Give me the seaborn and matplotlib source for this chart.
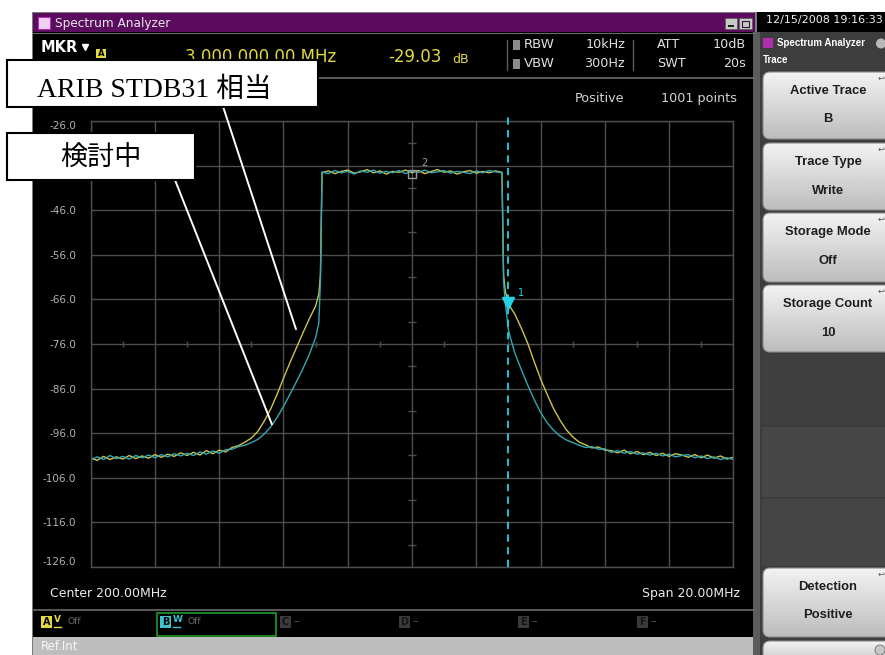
import numpy as np
import pandas as pd
import seaborn as sns
import matplotlib.pyplot as plt
from matplotlib.patches import Rectangle, FancyBboxPatch, Circle

plt.rcParams['font.family'] = ['DejaVu Sans', 'Noto Sans CJK JP']

# ---- values ----
freq_mhz = [
    190.0, 190.2, 190.4, 190.6, 190.8, 191.0, 191.2, 191.4, 191.6, 191.8, 192.0,
    192.2, 192.4, 192.6, 192.8, 193.0, 193.2, 193.4, 193.6, 193.8, 194.0, 194.2,
    194.4, 194.6, 194.8, 195.0, 195.2, 195.4, 195.6, 195.8, 196.0, 196.2, 196.4,
    196.6, 196.8, 197.0, 197.1, 197.15,
    197.2, 197.4, 197.6, 197.8, 198.0, 198.2, 198.4, 198.6, 198.8, 199.0, 199.2,
    199.4, 199.6, 199.8, 200.0, 200.2, 200.4, 200.6, 200.8, 201.0, 201.2, 201.4,
    201.6, 201.8, 202.0, 202.2, 202.4, 202.6, 202.8,
    202.85, 202.9, 203.0, 203.05, 203.2, 203.4, 203.6, 203.8, 204.0, 204.2, 204.4,
    204.6, 204.8, 205.0, 205.2, 205.4, 205.6, 205.8, 206.0,
    206.2, 206.4, 206.6, 206.8, 207.0, 207.2, 207.4, 207.6, 207.8, 208.0, 208.2,
    208.4, 208.6, 208.8, 209.0, 209.2, 209.4, 209.6, 209.8, 210.0,
]

# trace A (yellow, "ARIB STDB31 相当")
trace_a_db = [
    -101.5, -102.1, -101.2, -101.9, -101.3, -101.8, -101.0, -101.7, -101.1, -101.6, -100.8,
    -101.4, -100.7, -101.2, -100.4, -101.0, -100.3, -100.9, -99.9, -100.6, -99.8, -100.2,
    -99.2, -98.8, -98.0, -97.1, -95.6, -93.3, -90.6, -87.3, -83.7, -80.2, -76.9,
    -73.6, -70.4, -67.5, -64.8, -60.5,
    -37.6, -37.2, -37.8, -37.3, -37.0, -37.7, -37.4, -36.9, -37.6, -37.2, -37.9,
    -37.3, -37.5, -37.0, -37.6, -37.1, -37.8, -37.3, -36.9, -37.5, -37.2, -37.9,
    -37.4, -37.1, -37.7, -37.3, -37.6, -37.2, -37.5,
    -60.5, -64.0, -66.9, -67.6, -69.3, -72.4, -75.8, -79.9, -83.8, -87.2, -90.4,
    -93.0, -95.2, -96.8, -98.0, -98.6, -99.3, -99.1, -99.8,
    -99.9, -100.4, -99.8, -100.6, -100.1, -100.8, -100.3, -101.0, -100.5, -101.2, -100.6,
    -100.9, -101.4, -100.8, -101.5, -100.9, -101.6, -101.1, -101.8, -101.4,
]

# trace B (cyan, "検討中")
trace_b_db = [
    -102.0, -101.3, -101.9, -101.0, -101.7, -101.2, -101.8, -101.0, -101.5, -100.9, -101.5,
    -100.8, -101.3, -100.6, -101.1, -100.5, -101.0, -100.2, -100.7, -100.0, -100.5, -99.7,
    -99.6, -99.0, -98.7, -98.1, -97.4, -96.2, -94.6, -92.5, -90.0, -87.3, -84.5,
    -81.6, -78.4, -74.6, -71.3, -62.0,
    -37.4, -37.8, -37.1, -37.6, -37.3, -37.9, -37.2, -37.5, -37.0, -37.7, -37.3,
    -37.6, -37.1, -37.8, -37.2, -37.5, -37.0, -37.6, -37.4, -37.1, -37.7, -37.3,
    -37.5, -37.8, -37.2, -37.6, -37.1, -37.4, -37.6,
    -62.0, -66.5, -72.8, -74.3, -78.0, -81.7, -85.2, -88.4, -91.3, -93.6, -95.3,
    -96.6, -97.5, -98.1, -98.7, -99.2, -99.0, -99.6, -99.5,
    -100.3, -99.9, -100.5, -100.1, -100.7, -100.4, -100.9, -100.5, -101.1, -100.7, -101.3,
    -101.0, -100.8, -101.5, -101.1, -101.7, -101.3, -101.9, -101.5, -101.9,
]

y_ticks_db = [-26, -36, -46, -56, -66, -76, -86, -96, -106, -116, -126]
x_ticks_mhz = [190, 192, 194, 196, 198, 200, 202, 204, 206, 208, 210]
marker_freq = [203.0, 200.0]
marker_db = [-66.9, -37.9]
note_labels = ['ARIB STDB31 相当', '検討中']
note_targets = [(196.39, -72.7), (195.64, -94.0)]

softkeys = [('Active Trace', 'B'), ('Trace Type', 'Write'), ('Storage Mode', 'Off'),
            ('Storage Count', '10'), ('Detection', 'Positive'), ('', '')]

YEL = '#e3da3f'
TR_A = '#cdc44a'
TR_B = '#33a8b3'
GRID = '#4d4d4d'

W, H = 885, 655
fig = plt.figure(figsize=(W / 100, H / 100), dpi=100, facecolor='white')

# ---------- screen chrome, drawn in pixel coordinates ----------
bg = fig.add_axes([0, 0, 1, 1], label='chrome', zorder=0)
bg.axis('off')


def rect(x0, y0, x1, y1, **kw):
    kw.setdefault('lw', 0)
    bg.add_patch(Rectangle((x0, y0), x1 - x0, y1 - y0, **kw))


def txt(x, y, s, **kw):
    kw.setdefault('va', 'center')
    bg.text(x, y, s, **kw)


rect(32, 12, 760, 655, fc='#7c7c7c')
rect(33, 13, 755, 655, fc='black')
rect(33, 13, 755, 32, fc='#5a0b5e')
rect(38, 17, 50, 29, fc='#f2d0f0', ec='#b030b0', lw=0.8)
txt(55, 23, 'Spectrum Analyzer', color='#e6e6e6', fontsize=8.7)
rect(725, 18, 737, 29, fc='#c8c8c8', ec='#606060', lw=0.6)
rect(739, 18, 752, 29, fc='#c8c8c8', ec='#606060', lw=0.6)
rect(728, 25, 734, 26.5, fc='#202020')
rect(742, 20.5, 749, 27, fc='none', ec='#202020', lw=0.8)
bg.plot([33, 755], [32.5, 32.5], color='#6a6a6a', lw=0.8)
bg.plot([33, 755], [78, 78], color='#6a6a6a', lw=1.2)

# marker readout
txt(41, 47.5, 'MKR', color='white', fontsize=10.5, fontweight='bold')
bg.plot([85], [46.5], marker='v', color='white', ms=5)
rect(96, 49, 106, 57.5, fc=YEL)
txt(101, 53.3, 'A', color='black', fontsize=6, fontweight='bold', ha='center')
txt(185, 62, '3.000 000 00 MHz', color=YEL, fontsize=12, va='baseline')
txt(388, 62, '-29.03', color=YEL, fontsize=12, va='baseline')
txt(452, 63, 'dB', color=YEL, fontsize=9, va='baseline')
for sx in (506.7, 633.3):
    bg.plot([sx, sx], [40, 70], color='#5a5a5a', lw=1)
rect(512.7, 40, 520, 50, fc='#8a8a8a')
rect(512.7, 58.5, 520, 68.5, fc='#8a8a8a')
txt(524, 45, 'RBW', color='#e0e0e0', fontsize=9.5)
txt(524, 63.3, 'VBW', color='#e0e0e0', fontsize=9.5)
txt(625, 45, '10kHz', color='#e0e0e0', fontsize=9.2, ha='right')
txt(625, 63.3, '300Hz', color='#e0e0e0', fontsize=9.2, ha='right')
txt(657, 45, 'ATT', color='#e0e0e0', fontsize=9.2)
txt(657, 63.3, 'SWT', color='#e0e0e0', fontsize=9.2)
txt(746, 45, '10dB', color='#e0e0e0', fontsize=9.2, ha='right')
txt(746, 63.3, '20s', color='#e0e0e0', fontsize=9.2, ha='right')
txt(575, 98.3, 'Positive', color='#d4d4d4', fontsize=9.2)
txt(737, 98.3, '1001 points', color='#d4d4d4', fontsize=9.2, ha='right')

# bottom strip
txt(50, 593.3, 'Center 200.00MHz', color='#ececec', fontsize=9)
txt(740, 593.3, 'Span 20.00MHz', color='#ececec', fontsize=9, ha='right')
bg.plot([33, 755], [610, 610], color='#6a6a6a', lw=1.2)
trace_slots = [('A', 'V', YEL, 41), ('B', 'W', '#3ec3cc', 160), ('C', None, None, 279.5),
               ('D', None, None, 398.5), ('E', None, None, 517.6), ('F', None, None, 636.6)]
for letter, mode, col, x in trace_slots:
    if col:
        rect(x, 616, x + 11, 628, fc=col)
        txt(x + 5.5, 622.3, letter, color='black', fontsize=7, fontweight='bold', ha='center')
        txt(x + 13, 620, mode, color=col, fontsize=6.5, fontweight='bold')
        bg.plot([x + 13, x + 20], [627, 627], color=col, lw=1)
        txt(x + 27, 622, 'Off', color='#6c6c6c', fontsize=6.5)
    else:
        rect(x, 616, x + 11, 628, fc='#3a3a3a')
        txt(x + 5.5, 622.3, letter, color='#141414', fontsize=7, fontweight='bold', ha='center')
        txt(x + 14, 621.5, '–', color='#5a5a5a', fontsize=8)
rect(157, 613.3, 276, 636, fc='none', ec='#1f9a2a', lw=1.2)
rect(33, 637, 757, 655, fc='#bebebe')
txt(41, 647, 'Ref.Int', color='#f6f6f6', fontsize=8.5)

# right softkey panel
rect(757, 12, 885, 32, fc='black')
txt(766, 20, '12/15/2008 19:16:33', color='#f0f0f0', fontsize=8)
rect(753, 32, 760, 655, fc='#5c5c5c')
rect(760, 32, 885, 655, fc='#3d3d3d')
rect(763, 38, 773, 48, fc='#b02cb0')
txt(777, 43.3, 'Spectrum Analyzer', color='white', fontsize=7,
    fontweight='bold', family='Liberation Sans')
bg.add_patch(Circle((881, 43.5), 5, fc='#b8b8b8', lw=0))
txt(763, 60, 'Trace', color='white', fontsize=7, fontweight='bold', family='Liberation Sans')
rect(762, 355, 885, 425, fc='#3f3f3f')
rect(762, 427, 885, 497, fc='#474747')
rect(762, 499, 885, 566, fc='#454545')

key_rows = [(72, 139), (143, 210), (213, 282), (285, 352), (568, 637), (641, 668)]
grad = np.linspace(0.95, 0.74, 64).reshape(-1, 1)
for (top, bot), (l1, l2) in zip(key_rows, softkeys):
    key = FancyBboxPatch((763, top), 140, bot - top,
                         boxstyle='round,pad=0,rounding_size=7',
                         fc='none', ec='#8a8a8a', lw=0.8, zorder=2)
    bg.add_patch(key)
    im = bg.imshow(grad, extent=[763, 903, bot, top], cmap='gray', vmin=0, vmax=1,
                   aspect='auto', zorder=1)
    im.set_clip_path(key)
    if l1:
        txt(828, top + 19.5, l1, color='#1e1e1e', fontsize=9.4, fontweight='bold',
            ha='center', family='Liberation Sans', zorder=3)
        txt(828, top + 47.5, l2, color='#1e1e1e', fontsize=9.4, fontweight='bold',
            ha='center', family='Liberation Sans', zorder=3)
        txt(881, top + 6, '↩', color='#555555', fontsize=6, ha='center', zorder=3)
bg.add_patch(Circle((880, 650), 5, fc='#c8c8c8', ec='#707070', lw=0.6, zorder=3))
bg.set_xlim(0, W)
bg.set_ylim(H, 0)

# ---------- spectrum graticule ----------
ax = fig.add_axes([90.7 / W, 1 - 567 / H, (733.3 - 90.7) / W, (567 - 121) / H],
                  label='spectrum', zorder=1)
ax.set_facecolor('black')

n = len(freq_mhz)
df = pd.DataFrame({
    'freq': freq_mhz * 2,
    'level': trace_a_db + trace_b_db,
    'trace': ['A'] * n + ['B'] * n,
})
sns.lineplot(data=df, x='freq', y='level', hue='trace', hue_order=['A', 'B'],
             palette={'A': TR_A, 'B': TR_B}, estimator=None, linewidth=1.0,
             legend=False, ax=ax)

ax.set_xlim(190, 210)
ax.set_ylim(-126, -26)
ax.set_xticks(x_ticks_mhz)
ax.set_yticks(y_ticks_db)
ax.set_xticklabels([])
# the -36.0 label sits under the 検討中 callout, so it is left blank
ax.set_yticklabels(['' if v == -36 else f'{v:.1f}' for v in y_ticks_db])
ax.tick_params(length=0, labelcolor='#b4b4b4', labelsize=7.5, pad=10.5)
ylabels = ax.get_yticklabels()
ylabels[0].set_va('top')
ylabels[-1].set_va('bottom')
ax.set_xlabel('')
ax.set_ylabel('')
ax.grid(True, color=GRID, lw=1.0)
ax.set_axisbelow(True)
for sp in ax.spines.values():
    sp.set_color(GRID)
    sp.set_linewidth(1.0)

# half-division ticks on the centre cross
half_x = [t + 1 for t in x_ticks_mhz[:-1]]
half_y = [t - 5 for t in y_ticks_db[:-1]]
ax.plot(half_x, [-76] * len(half_x), ls='none', marker='|', ms=5, color=GRID, mew=1)
ax.plot([200] * len(half_y), half_y, ls='none', marker='_', ms=6, color=GRID, mew=1)

# markers
ax.axvline(marker_freq[0], ymax=1.018, color='#22d3e6', lw=1.3, ls=(0, (4, 3)),
           clip_on=False, zorder=4)
ax.plot(marker_freq[0], marker_db[0], marker='v', color='#22d3e6', ms=8, zorder=5)
ax.annotate('1', (marker_freq[0], marker_db[0]), xytext=(7, 5), textcoords='offset points',
            color='#22d3e6', fontsize=7)
ax.plot(marker_freq[1], marker_db[1], marker='s', mfc='none', mec='#9a9a9a', ms=6, mew=1,
        zorder=5)
ax.annotate('2', (marker_freq[1], marker_db[1]), xytext=(7, 6), textcoords='offset points',
            color='#9a9a9a', fontsize=7)

# leader lines from the callout boxes
starts = [(223.3, H - 107.3), (175, H - 180)]
for target, start in zip(note_targets, starts):
    ax.annotate('', xy=target, xycoords='data', xytext=start, textcoords='figure pixels',
                arrowprops=dict(arrowstyle='-', color='white', lw=1.4,
                                shrinkA=0, shrinkB=0))

# ---------- callout boxes ----------
ov = fig.add_axes([0, 0, 1, 1], label='notes', zorder=3)
ov.axis('off')
ov.set_xlim(0, W)
ov.set_ylim(H, 0)
ov.add_patch(Rectangle((7.3, 60), 311, 47.3, fc='white', ec='black', lw=1.5))
ov.text(36.7, 96.7, note_labels[0], family=['Liberation Serif', 'Noto Sans CJK JP'],
        fontsize=20, va='baseline', color='black')
ov.add_patch(Rectangle((7.3, 132.7), 187.7, 47.3, fc='white', ec='black', lw=1.5))
ov.text(101, 158.3, note_labels[1], family=['Noto Sans CJK JP'], fontsize=19.5,
        ha='center', va='center', color='black')

fig.savefig('out.png', dpi=100, facecolor='white')
